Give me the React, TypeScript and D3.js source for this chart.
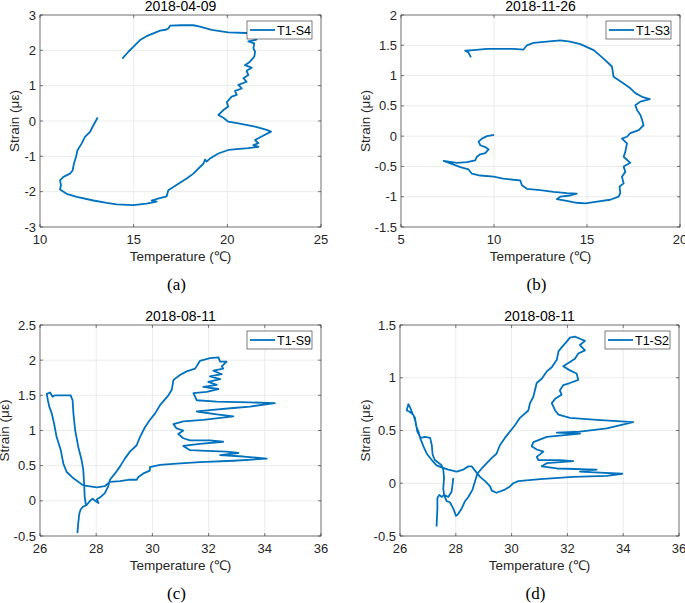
import * as d3 from 'd3'

const FONT = '"Liberation Sans", Arial, Helvetica, sans-serif'
const SERIF = '"Liberation Serif", "Times New Roman", serif'
const LINE_COLOR = '#0072BD'
const AXIS_COLOR = '#262626'

type Pt = [number, number]

// (a) 2018-04-09, T1-S4 : [temperature, strain]
const t1s4: Pt[] = [
  [13.08, 0.1], [12.85, -0.12], [12.67, -0.31], [12.4, -0.45], [12.22, -0.64], [12.0, -0.83],
  [11.92, -1.02], [11.81, -1.21], [11.74, -1.4], [11.6, -1.49], [11.25, -1.58], [11.07, -1.68],
  [11.12, -1.82], [11.07, -1.94], [11.42, -2.06], [11.96, -2.15], [12.85, -2.25], [13.56, -2.32],
  [14.09, -2.36], [14.98, -2.38], [15.69, -2.34], [16.23, -2.28], [15.96, -2.25], [16.3, -2.2],
  [16.76, -2.13], [16.85, -1.96], [17.12, -1.87], [17.47, -1.75], [17.83, -1.63], [18.19, -1.49],
  [18.45, -1.35], [18.72, -1.21], [18.81, -1.09], [18.9, -1.15], [19.08, -1.06], [19.52, -0.92],
  [20.05, -0.82], [21.12, -0.77], [21.66, -0.73], [21.39, -0.68], [21.66, -0.63], [21.48, -0.54],
  [21.83, -0.44], [22.33, -0.3], [22.1, -0.25], [21.48, -0.16], [20.59, -0.07], [20.05, -0.02],
  [19.79, 0.09], [19.52, 0.17], [19.79, 0.31], [20.05, 0.41], [19.97, 0.53], [20.23, 0.69],
  [20.5, 0.74], [20.41, 0.85], [20.77, 0.92], [20.59, 1.02], [21.03, 1.11], [20.86, 1.21],
  [21.12, 1.3], [21.03, 1.42], [21.3, 1.51], [20.94, 1.58], [21.21, 1.68], [21.44, 1.82],
  [21.48, 1.96], [21.39, 2.06], [21.44, 2.2], [21.12, 2.25], [21.55, 2.3], [21.5, 2.45],
  [21.03, 2.49], [20.05, 2.51], [19.16, 2.58], [18.54, 2.67], [18.19, 2.71], [17.56, 2.71],
  [16.95, 2.7], [16.85, 2.62], [16.76, 2.59], [16.41, 2.56], [16.05, 2.48], [15.69, 2.4],
  [15.34, 2.29], [14.98, 2.1], [14.72, 1.96], [14.45, 1.8], [14.4, 1.76],
]

// (b) 2018-11-26, T1-S3
const t1s3: Pt[] = [
  [10.01, 0.02], [9.62, 0.0], [9.35, -0.04], [9.17, -0.09], [9.26, -0.15], [9.53, -0.18],
  [9.71, -0.22], [9.53, -0.28], [9.26, -0.3], [9.08, -0.34], [8.99, -0.4], [8.54, -0.43],
  [8.0, -0.44], [7.29, -0.41], [7.65, -0.45], [8.19, -0.51], [8.63, -0.55], [8.81, -0.62],
  [9.26, -0.65], [9.98, -0.67], [10.5, -0.7], [11.05, -0.72], [11.41, -0.73], [11.5, -0.81],
  [11.77, -0.87], [12.48, -0.89], [13.2, -0.92], [13.91, -0.94], [14.45, -0.95], [14.09, -0.98],
  [13.56, -1.0], [13.38, -1.04], [13.91, -1.07], [14.45, -1.1], [14.91, -1.11], [15.54, -1.08],
  [16.25, -1.05], [16.7, -1.0], [16.79, -0.94], [16.75, -0.83], [16.97, -0.78], [16.88, -0.67],
  [17.06, -0.59], [16.97, -0.5], [17.33, -0.44], [16.97, -0.34], [17.06, -0.26], [17.15, -0.12],
  [16.88, -0.04], [17.15, -0.01], [17.33, 0.05], [17.78, 0.1], [18.04, 0.18], [17.96, 0.27],
  [17.87, 0.35], [17.69, 0.43], [17.6, 0.51], [17.87, 0.57], [18.38, 0.61], [17.96, 0.65],
  [17.6, 0.71], [17.33, 0.79], [16.97, 0.87], [16.43, 0.98], [16.34, 1.15], [15.89, 1.28],
  [15.36, 1.42], [14.64, 1.52], [14.09, 1.56], [13.56, 1.58], [12.84, 1.56], [12.12, 1.54],
  [11.77, 1.5], [11.59, 1.43], [11.05, 1.44], [10.33, 1.44], [9.62, 1.44], [8.9, 1.42],
  [8.45, 1.41], [8.63, 1.38], [8.76, 1.3],
]

// (c) 2018-08-11, T1-S9
const t1s9: Pt[] = [
  [27.33, -0.46], [27.36, -0.32], [27.4, -0.18], [27.45, -0.12], [27.54, -0.08], [27.66, -0.06],
  [27.78, 0.0], [27.87, 0.03], [27.96, 0.0], [28.08, -0.03], [28.02, 0.02], [28.14, 0.05],
  [28.31, 0.11], [28.43, 0.21], [28.49, 0.3], [28.67, 0.39], [28.85, 0.49], [29.02, 0.6],
  [29.2, 0.7], [29.44, 0.79], [29.56, 0.91], [29.74, 1.05], [29.91, 1.15], [30.09, 1.24],
  [30.27, 1.36], [30.57, 1.5], [30.69, 1.58], [30.75, 1.72], [30.98, 1.79], [31.22, 1.84],
  [31.52, 1.88], [31.63, 1.95], [31.69, 1.99], [32.05, 2.03], [32.35, 2.04], [32.41, 1.98],
  [32.64, 1.98], [32.47, 1.91], [32.52, 1.88], [32.17, 1.85], [32.47, 1.8], [32.05, 1.77],
  [32.41, 1.73], [31.99, 1.69], [32.29, 1.65], [31.81, 1.62], [32.35, 1.59], [31.93, 1.55],
  [31.46, 1.53], [31.58, 1.43], [32.29, 1.41], [33.47, 1.4], [34.36, 1.39], [33.47, 1.34],
  [32.88, 1.32], [32.05, 1.29], [31.58, 1.27], [32.29, 1.23], [32.88, 1.2], [31.81, 1.15],
  [31.1, 1.13], [30.75, 1.09], [30.86, 1.03], [31.1, 1.0], [30.92, 0.95], [31.1, 0.89],
  [31.34, 0.86], [32.05, 0.86], [32.52, 0.84], [31.69, 0.81], [31.1, 0.78], [31.34, 0.72],
  [31.93, 0.71], [32.64, 0.7], [33.06, 0.68], [32.41, 0.65], [33.24, 0.63], [34.07, 0.6],
  [32.88, 0.57], [31.69, 0.55], [30.86, 0.53], [30.27, 0.51], [30.03, 0.49], [29.91, 0.48],
  [29.91, 0.43], [29.68, 0.39], [29.5, 0.34], [29.44, 0.3], [29.2, 0.3], [28.85, 0.28],
  [28.49, 0.27], [28.31, 0.21], [28.02, 0.19], [27.54, 0.22], [27.19, 0.32], [26.95, 0.41],
  [26.83, 0.53], [26.74, 0.72], [26.59, 0.91], [26.5, 1.1], [26.42, 1.24], [26.33, 1.34],
  [26.28, 1.43], [26.24, 1.52], [26.36, 1.54], [26.45, 1.48], [26.53, 1.5], [26.83, 1.5],
  [27.09, 1.5], [27.16, 1.43], [27.19, 1.24], [27.25, 1.01], [27.36, 0.77], [27.48, 0.58],
  [27.54, 0.44], [27.57, 0.25], [27.59, 0.06], [27.63, -0.05],
]

// (d) 2018-08-11, T1-S2
const t1s2: Pt[] = [
  [27.31, -0.41], [27.34, -0.24], [27.34, -0.14], [27.41, -0.11], [27.49, -0.13], [27.58, -0.11],
  [27.67, -0.17], [27.79, -0.18], [27.91, -0.24], [28.01, -0.31], [28.09, -0.29], [28.21, -0.24],
  [28.33, -0.17], [28.45, -0.13], [28.6, -0.06], [28.69, 0.02], [28.77, 0.09], [28.93, 0.14],
  [29.11, 0.19], [29.29, 0.24], [29.46, 0.28], [29.58, 0.36], [29.76, 0.43], [29.94, 0.49],
  [30.12, 0.55], [30.3, 0.62], [30.6, 0.69], [30.66, 0.76], [30.78, 0.82], [30.9, 0.95],
  [31.08, 0.99], [31.26, 1.06], [31.44, 1.1], [31.62, 1.17], [31.68, 1.25], [31.8, 1.29],
  [31.97, 1.34], [32.09, 1.38], [32.27, 1.39], [32.45, 1.37], [32.63, 1.35], [32.45, 1.31],
  [32.63, 1.26], [32.39, 1.23], [32.27, 1.18], [32.09, 1.15], [31.85, 1.11], [32.09, 1.07],
  [32.33, 1.04], [32.39, 0.98], [32.09, 0.95], [31.85, 0.93], [31.73, 0.88], [31.79, 0.84],
  [31.56, 0.8], [31.44, 0.76], [31.56, 0.69], [31.68, 0.65], [32.09, 0.62], [33.05, 0.6],
  [34.36, 0.58], [33.41, 0.52], [32.45, 0.49], [31.62, 0.48], [32.45, 0.47], [31.26, 0.44],
  [30.78, 0.39], [30.72, 0.35], [30.9, 0.32], [31.14, 0.3], [30.9, 0.25], [30.96, 0.22],
  [31.73, 0.22], [32.21, 0.21], [31.26, 0.19], [31.08, 0.16], [31.62, 0.14], [33.05, 0.13],
  [32.45, 0.11], [33.17, 0.1], [33.97, 0.09], [33.41, 0.07], [32.21, 0.06], [31.02, 0.04],
  [30.24, 0.02], [30.06, 0.0], [29.94, -0.03], [29.76, -0.06], [29.46, -0.09], [29.29, -0.07],
  [29.23, -0.03], [29.05, 0.02], [28.87, 0.06], [28.69, 0.12], [28.57, 0.16], [28.45, 0.16],
  [28.27, 0.13], [28.03, 0.11], [27.73, 0.13], [27.49, 0.15], [27.31, 0.17], [27.14, 0.22],
  [26.96, 0.28], [26.84, 0.35], [26.72, 0.43], [26.66, 0.49], [26.57, 0.55], [26.54, 0.62],
  [26.45, 0.66], [26.36, 0.72], [26.3, 0.75], [26.24, 0.69], [26.33, 0.68], [26.48, 0.65],
  [26.57, 0.57], [26.62, 0.49], [26.74, 0.43], [26.9, 0.44], [27.08, 0.43], [27.14, 0.36],
  [27.17, 0.27], [27.25, 0.22], [27.49, 0.17], [27.55, 0.13], [27.58, 0.05], [27.55, -0.05],
  [27.58, -0.11], [27.73, -0.13], [27.85, -0.08], [27.89, 0.0], [27.91, 0.05],
]

const ticksA_x = [10, 15, 20, 25]
const ticksA_y = [-3, -2, -1, 0, 1, 2, 3]
const ticksB_x = [5, 10, 15, 20]
const ticksB_y = [-1.5, -1, -0.5, 0, 0.5, 1, 1.5, 2]
const ticksCD_x = [26, 28, 30, 32, 34, 36]
const ticksC_y = [-0.5, 0, 0.5, 1, 1.5, 2, 2.5]
const ticksD_y = [-0.5, 0, 0.5, 1, 1.5]

interface PanelProps {
  left: number
  right: number
  top: number
  bottom: number
  xTicks: number[]
  yTicks: number[]
  data: Pt[]
  title: string
  name: string
  caption: string
  yLabelGap: number
  id: string
}

function Panel({ left, right, top, bottom, xTicks, yTicks, data, title, name, caption, yLabelGap, id }: PanelProps) {
  const x = d3.scaleLinear().domain(d3.extent(xTicks) as [number, number]).range([left, right])
  const y = d3.scaleLinear().domain(d3.extent(yTicks) as [number, number]).range([bottom, top])
  const line = d3.line<Pt>().x(d => x(d[0])).y(d => y(d[1]))
  const cx = (left + right) / 2
  const cy = (top + bottom) / 2
  const legW = 65
  const legX = right - 9 - legW
  const legY = top + 6
  return (
    <g>
      <defs>
        <clipPath id={id}>
          <rect x={left} y={top} width={right - left} height={bottom - top} />
        </clipPath>
      </defs>
      <rect x={left} y={top} width={right - left} height={bottom - top} fill="#fff" />
      {xTicks.map(t => (
        <line key={'gx' + t} x1={x(t)} x2={x(t)} y1={top} y2={bottom} stroke="#e6e6e6" strokeWidth={0.8} />
      ))}
      {yTicks.map(t => (
        <line key={'gy' + t} x1={left} x2={right} y1={y(t)} y2={y(t)} stroke="#e6e6e6" strokeWidth={0.8} />
      ))}
      <path d={line(data) ?? ''} fill="none" stroke={LINE_COLOR} strokeWidth={1.8} strokeLinejoin="round" clipPath={`url(#${id})`} />
      <rect x={left} y={top} width={right - left} height={bottom - top} fill="none" stroke={AXIS_COLOR} strokeWidth={0.6} />
      {xTicks.map(t => (
        <g key={'tx' + t}>
          <line x1={x(t)} x2={x(t)} y1={bottom} y2={bottom - 3} stroke={AXIS_COLOR} strokeWidth={0.6} />
          <line x1={x(t)} x2={x(t)} y1={top} y2={top + 3} stroke={AXIS_COLOR} strokeWidth={0.6} />
          <text x={x(t)} y={bottom + 17} textAnchor="middle" fontSize={13} fill={AXIS_COLOR}>{String(t)}</text>
        </g>
      ))}
      {yTicks.map(t => (
        <g key={'ty' + t}>
          <line x1={left} x2={left + 3} y1={y(t)} y2={y(t)} stroke={AXIS_COLOR} strokeWidth={0.6} />
          <line x1={right} x2={right - 3} y1={y(t)} y2={y(t)} stroke={AXIS_COLOR} strokeWidth={0.6} />
          <text x={left - 4} y={y(t)} dy="0.35em" textAnchor="end" fontSize={13} fill={AXIS_COLOR}>{String(t)}</text>
        </g>
      ))}
      <text x={cx} y={top - 4} textAnchor="middle" fontSize={14} fill="#000">{title}</text>
      <text x={cx} y={bottom + 34} textAnchor="middle" fontSize={13.5} fill={AXIS_COLOR}>Temperature (℃)</text>
      <text transform={`translate(${left - yLabelGap},${cy}) rotate(-90)`} textAnchor="middle" fontSize={13.5} fill={AXIS_COLOR}>Strain (με)</text>
      <rect x={legX} y={legY} width={legW} height={18} fill="#fff" stroke={AXIS_COLOR} strokeWidth={0.6} />
      <line x1={legX + 3} x2={legX + 28} y1={legY + 9} y2={legY + 9} stroke={LINE_COLOR} strokeWidth={1.8} />
      <text x={legX + 30} y={legY + 9} dy="0.36em" fontSize={12.5} fill="#000">{name}</text>
      <text x={cx - 4} y={bottom + 63} textAnchor="middle" fontFamily={SERIF} fontSize={17} fill="#000">{caption}</text>
    </g>
  )
}

export default function App() {
  return (
    <svg width={685} height={603} style={{ position: 'absolute', left: 0, top: 0, background: '#fff', fontFamily: FONT }}>
      <Panel id="ca" left={40} right={321} top={15} bottom={227} xTicks={ticksA_x} yTicks={ticksA_y}
        data={t1s4} title="2018-04-09" name="T1-S4" caption="(a)" yLabelGap={21.5} />
      <Panel id="cb" left={401} right={680} top={15} bottom={227} xTicks={ticksB_x} yTicks={ticksB_y}
        data={t1s3} title="2018-11-26" name="T1-S3" caption="(b)" yLabelGap={31.5} />
      <Panel id="cc" left={40} right={321} top={325} bottom={536} xTicks={ticksCD_x} yTicks={ticksC_y}
        data={t1s9} title="2018-08-11" name="T1-S9" caption="(c)" yLabelGap={31.5} />
      <Panel id="cd" left={400} right={679} top={325} bottom={536} xTicks={ticksCD_x} yTicks={ticksD_y}
        data={t1s2} title="2018-08-11" name="T1-S2" caption="(d)" yLabelGap={30.5} />
    </svg>
  )
}
